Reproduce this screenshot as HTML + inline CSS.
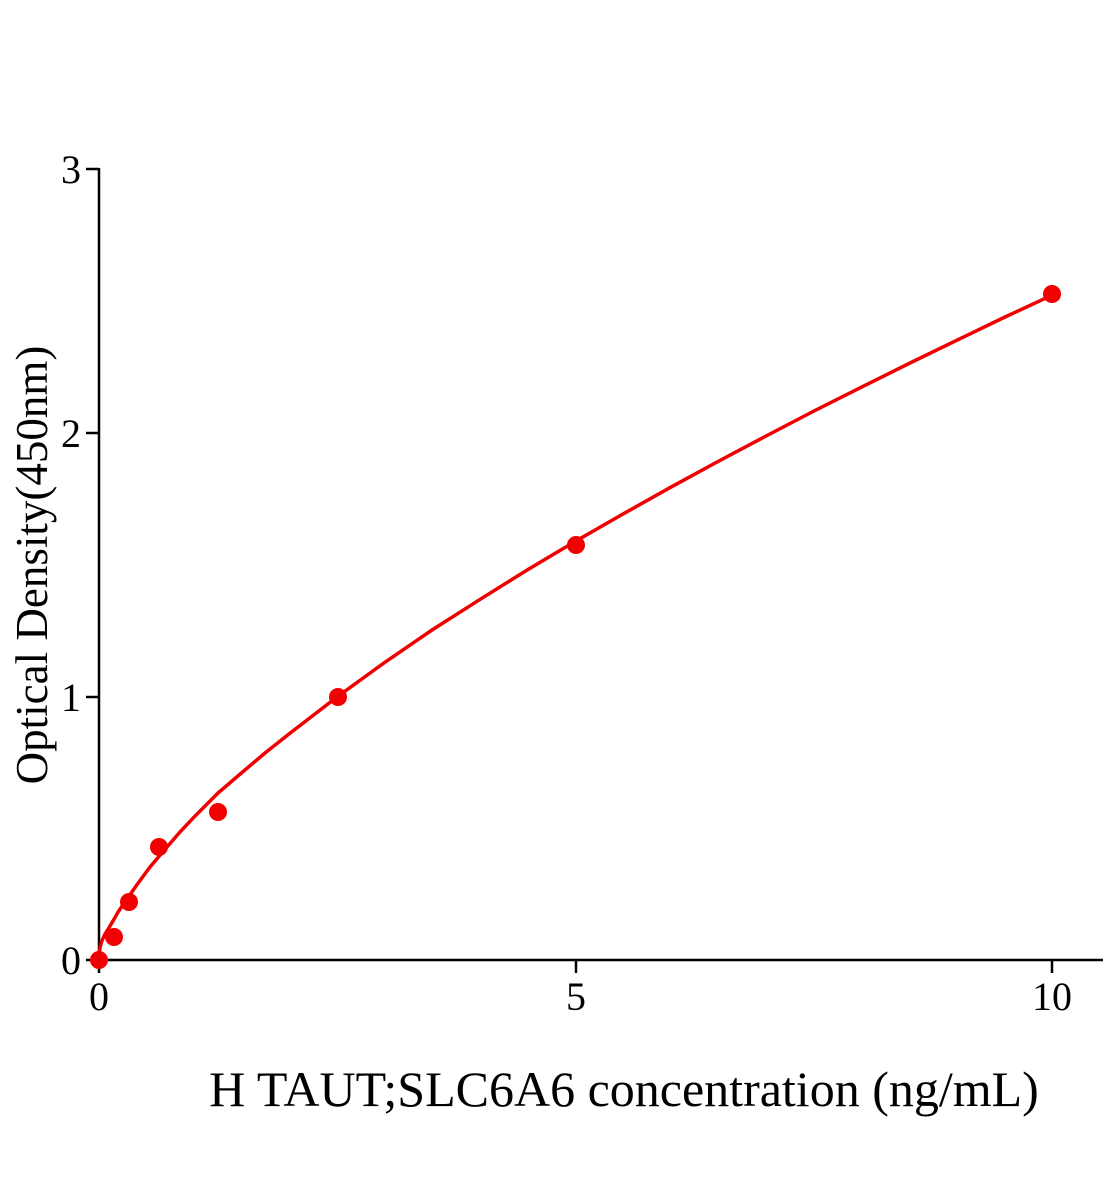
<!DOCTYPE html>
<html><head><meta charset="utf-8"><style>
html,body{margin:0;padding:0;background:#fff;}
svg{display:block;}
text{font-family:"Liberation Serif",serif;fill:#000;}
</style></head><body>
<svg width="1104" height="1200" viewBox="0 0 1104 1200" xmlns="http://www.w3.org/2000/svg">
<g stroke="#000" stroke-width="2.5" fill="none">
<line x1="99" y1="168" x2="99" y2="973"/>
<line x1="86" y1="960" x2="1103" y2="960"/>
<line x1="86" y1="169" x2="99" y2="169"/>
<line x1="86" y1="433" x2="99" y2="433"/>
<line x1="86" y1="697" x2="99" y2="697"/>
<line x1="576" y1="960" x2="576" y2="973"/>
<line x1="1052" y1="960" x2="1052" y2="973"/>
</g>
<g font-size="40" text-anchor="end">
<text x="81" y="183">3</text>
<text x="81" y="447">2</text>
<text x="81" y="711">1</text>
<text x="81" y="974">0</text>
</g>
<g font-size="40" text-anchor="middle">
<text x="99" y="1010">0</text>
<text x="576" y="1010">5</text>
<text x="1052" y="1010">10</text>
</g>
<text x="624" y="1106" font-size="50" text-anchor="middle">H TAUT;SLC6A6 concentration (ng/mL)</text>
<text transform="translate(47,565) rotate(-90)" font-size="45" text-anchor="middle">Optical Density(450nm)</text>
<polyline fill="none" stroke="#f00000" stroke-width="3.5" stroke-linejoin="round" points="99,960 99.5,951 100.5,945.5 101.9,941 103.8,936.5 106,932.5 108.5,928.5 113,921 118.1,912 127,899 137.1,884.5 150,867 165.7,848.5 180,832 194.3,816.8 218,793 242,772.5 265,753 289.6,733.5 337,697 384.9,662.3 432,630 480.2,599.3 528,569.5 575.5,541.2 623,514 670.8,487.2 718,461.5 766.1,436 814,411 861.4,387.2 909,363.5 956.7,340.3 1004,317.5 1052,295.2"/>
<g fill="#f00000">
<circle cx="99" cy="960" r="9"/>
<circle cx="114" cy="937" r="9"/>
<circle cx="129" cy="902" r="9"/>
<circle cx="159" cy="847" r="9"/>
<circle cx="218" cy="812" r="9"/>
<circle cx="338" cy="697" r="9"/>
<circle cx="576" cy="545" r="9"/>
<circle cx="1052" cy="294" r="9"/>
</g>
</svg>
</body></html>
